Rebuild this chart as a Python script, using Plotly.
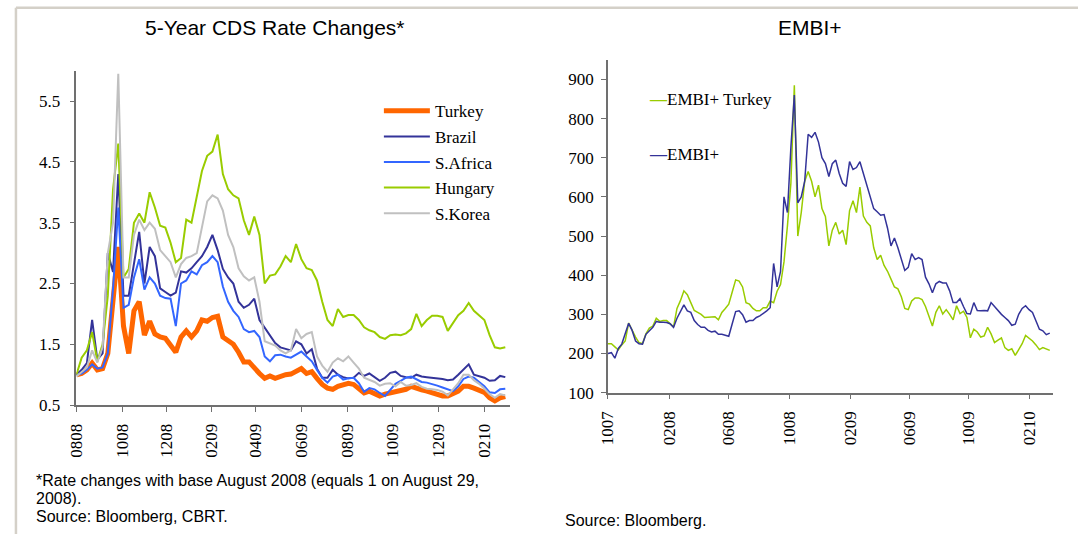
import plotly.graph_objects as go
import pandas as pd

W, H = 1078, 544

# ---------------- Left chart data: 5-year CDS rate changes (base 29 Aug 2008 = 1), weekly
cds_dates = pd.date_range("2008-08-29", periods=83, freq="7D")
turkey = [1.0, 1.02, 1.08, 1.19, 1.08, 1.1, 1.35, 2.3, 3.1, 1.8,
          1.35, 2.05, 2.2, 1.65, 1.88, 1.67, 1.62, 1.6, 1.5, 1.37,
          1.62, 1.72, 1.62, 1.72, 1.9, 1.88, 1.94, 1.96, 1.62, 1.56,
          1.5, 1.37, 1.21, 1.21, 1.1, 1.02, 0.94, 0.98, 0.94, 0.98,
          1.0, 1.01, 1.05, 1.1, 1.02, 1.05, 0.94, 0.84, 0.78, 0.76,
          0.81, 0.84, 0.86, 0.84, 0.76, 0.7, 0.73, 0.7, 0.65, 0.68,
          0.7, 0.7, 0.73, 0.76, 0.81, 0.77, 0.75, 0.73, 0.7, 0.69,
          0.65, 0.65, 0.68, 0.73, 0.81, 0.81, 0.78, 0.75, 0.71, 0.62,
          0.57, 0.62, 0.64]
brazil = [1.0, 1.08, 1.19, 1.9, 1.25, 1.35, 3.0, 2.69, 4.3, 2.3,
          2.3, 2.85, 3.35, 2.5, 3.1, 2.95, 2.42, 2.36, 2.3, 2.35,
          2.7, 2.68, 2.75, 2.85, 2.95, 3.1, 3.3, 3.05, 2.74, 2.6,
          2.5, 2.2, 2.1, 2.15, 2.25, 1.9, 1.78, 1.65, 1.52, 1.45,
          1.42, 1.4, 1.55, 1.5, 1.35, 1.42, 1.1, 0.95, 0.95, 1.08,
          1.0, 0.96, 0.94, 0.95, 1.03, 0.98, 1.02, 0.96, 0.9, 0.95,
          1.03, 1.05, 0.98, 0.96, 0.95, 1.0, 0.97, 0.96, 0.95, 0.95,
          0.93, 0.91, 0.92, 1.0, 1.08, 1.17, 1.0, 0.98, 0.95, 0.9,
          0.91, 0.98, 0.96]
s_africa = [1.0, 1.02, 1.08, 1.17, 1.1, 1.12, 1.35, 2.42, 3.75, 2.1,
            2.15, 2.6, 2.9, 2.4, 2.6, 2.5, 2.3, 2.26, 2.25, 1.8,
            2.5, 2.55, 2.7, 2.65, 2.8, 2.85, 2.95, 2.85, 2.45, 2.2,
            2.05, 1.95, 1.75, 1.7, 1.72, 1.62, 1.3, 1.22, 1.32, 1.33,
            1.3, 1.28, 1.33, 1.38, 1.3, 1.22, 1.08, 0.95, 0.87, 0.97,
            1.0, 0.92, 0.94, 0.95, 0.86, 0.72, 0.78, 0.76, 0.7, 0.65,
            0.75, 0.85, 0.9, 0.95, 0.97, 0.93, 0.88, 0.87, 0.85, 0.82,
            0.79, 0.76, 0.73, 0.81, 0.93, 0.97, 0.95, 0.88, 0.81, 0.71,
            0.7, 0.76, 0.77]
hungary = [1.0, 1.28, 1.4, 1.7, 1.22, 1.5, 2.3, 4.05, 4.8, 2.6,
           2.74, 3.5, 3.65, 3.5, 4.0, 3.75, 3.45, 3.42, 3.17, 2.85,
           2.92, 3.55, 3.5, 3.9, 4.35, 4.6, 4.67, 4.95, 4.3, 4.05,
           3.95, 3.9, 3.54, 3.3, 3.6, 3.3, 2.5, 2.63, 2.65, 2.78,
           2.95, 2.85, 3.15, 2.9, 2.75, 2.72, 2.55, 2.2, 1.9, 1.8,
           2.08, 1.95, 1.98, 1.98, 1.9, 1.78, 1.73, 1.7, 1.62, 1.59,
           1.65, 1.66, 1.65, 1.68, 1.75, 2.0, 1.8, 1.9, 1.97, 1.97,
           1.95, 1.72, 1.85, 1.98, 2.05, 2.18, 2.05, 1.97, 1.9, 1.65,
           1.45, 1.43, 1.45]
s_korea = [0.97, 1.05, 1.12, 1.4, 1.2, 1.45, 3.0, 3.5, 5.95, 2.6,
           2.6, 3.3, 3.55, 3.38, 3.5, 3.4, 3.05, 2.95, 2.85, 2.6,
           2.82, 2.92, 2.95, 3.0, 3.45, 3.85, 3.95, 3.9, 3.7, 3.3,
           3.1, 2.75, 2.62, 2.55, 2.6, 2.2, 1.55, 1.52, 1.48, 1.4,
           1.35, 1.4, 1.75, 1.6, 1.67, 1.7, 1.3, 1.15, 1.05, 1.2,
           1.27, 1.22, 1.3, 1.2, 1.1, 0.95, 0.92, 0.88, 0.82, 0.85,
           0.86, 0.81, 0.88, 0.82, 0.83, 0.86, 0.8, 0.77, 0.76, 0.75,
           0.72, 0.66, 0.76, 0.86, 1.0, 1.0, 0.91, 0.85, 0.77, 0.68,
           0.62, 0.68, 0.66]
cds_tick_dates = ["2008-08-29", "2008-10-29", "2008-12-27", "2009-02-26", "2009-04-26",
                  "2009-06-26", "2009-08-27", "2009-10-26", "2009-12-27", "2010-02-26"]
cds_tick_labels = ["0808", "1008", "1208", "0209", "0409", "0609", "0809", "1009", "1209", "0210"]

# ---------------- Right chart data: EMBI+ spreads (bp), weekly
embi_dates = pd.date_range("2007-10-05", periods=129, freq="7D")
embi_turkey = [225, 225, 217, 209, 222, 232, 278, 259, 242, 228,
               225, 250, 265, 270, 290, 282, 284, 284, 276, 268,
               315, 335, 360, 350, 330, 310, 305, 300, 292, 293,
               294, 294, 286, 305, 315, 326, 357, 388, 385, 370,
               330, 326, 315, 309, 309, 317, 317, 334, 330, 359,
               376, 434, 526, 635, 885, 500, 560, 640, 665, 640,
               600, 630, 570, 550, 475, 515, 535, 505, 515, 478,
               565, 590, 560, 625, 551, 535, 526, 470, 440, 451,
               425, 410, 390, 370, 365, 345, 315, 312, 334, 342,
               342, 338, 320, 292, 270, 305, 322, 301, 312, 300,
               286, 322, 302, 308, 292, 240, 262, 255, 242, 245,
               267, 250, 228, 234, 240, 215, 208, 212, 195, 210,
               225, 246, 240, 232, 222, 210, 215, 212, 208]
embi_plus = [200, 202, 188, 213, 224, 249, 277, 259, 232, 225,
             224, 249, 259, 267, 282, 280, 280, 279, 276, 267,
             290, 307, 324, 309, 305, 284, 274, 267, 267, 259,
             255, 257, 249, 249, 246, 244, 276, 307, 309, 299,
             280, 284, 284, 292, 296, 302, 309, 317, 430, 370,
             410, 600, 560, 727, 860, 585, 600, 640, 760, 752,
             765, 740, 700, 685, 652, 685, 694, 660, 635, 627,
             690, 670, 675, 690, 660, 636, 600, 570, 562, 553,
             555, 520, 475, 495, 470, 440, 412, 420, 455, 440,
             445, 440, 395, 378, 355, 378, 384, 380, 380, 360,
             330, 330, 340, 320, 302, 301, 330, 310, 309, 310,
             309, 330, 320, 308, 300, 292, 284, 272, 275, 300,
             315, 322, 312, 305, 285, 262, 258, 248, 252]
embi_tick_dates = ["2007-10-05", "2008-02-06", "2008-06-06", "2008-10-07",
                   "2009-02-07", "2009-06-07", "2009-10-06", "2010-02-06"]
embi_tick_labels = ["1007", "0208", "0608", "1008", "0209", "0609", "1009", "0210"]

# ---------------- styling
SERIF = "Liberation Serif, Times New Roman, serif"
SANS = "Liberation Sans, Arial, sans-serif"
AXIS_COLOR = "#707070"

def px_x(x):
    return x / W

def px_y(y):
    return 1 - y / H

fig = go.Figure()

cds_series = [
    ("Turkey", turkey, "#ff6600", 5),
    ("Brazil", brazil, "#333399", 2),
    ("S.Africa", s_africa, "#3366ff", 2),
    ("Hungary", hungary, "#99cc00", 2),
    ("S.Korea", s_korea, "#c0c0c0", 2),
]
for name, vals, color, width in cds_series:
    fig.add_trace(go.Scatter(
        x=cds_dates, y=vals, name=name, mode="lines",
        line=dict(color=color, width=width),
        xaxis="x", yaxis="y", legendgroup=name, showlegend=True,
    ))

fig.add_trace(go.Scatter(
    x=embi_dates, y=embi_turkey, name="EMBI+ Turkey", mode="lines",
    line=dict(color="#99cc00", width=1.5), xaxis="x2", yaxis="y2", showlegend=False,
))
fig.add_trace(go.Scatter(
    x=embi_dates, y=embi_plus, name="EMBI+", mode="lines",
    line=dict(color="#333399", width=1.5), xaxis="x2", yaxis="y2", showlegend=False,
))

axis_common = dict(
    showline=True, linecolor=AXIS_COLOR, linewidth=1.5, showgrid=False, zeroline=False,
    ticks="outside", ticklen=5, tickcolor=AXIS_COLOR, tickwidth=1.2,
    tickfont=dict(family=SERIF, size=17, color="black"),
)

fig.update_layout(
    width=W, height=H,
    margin=dict(l=0, r=0, t=0, b=0),
    paper_bgcolor="white", plot_bgcolor="white",
    xaxis=dict(domain=[px_x(68), px_x(505)], type="date",
               range=["2008-08-29", "2010-04-01"],
               tickmode="array", tickvals=cds_tick_dates, ticktext=cds_tick_labels,
               tickangle=-90, anchor="y", ticklabelstandoff=5, **axis_common),
    yaxis=dict(domain=[px_y(412.7), px_y(72)], range=[0.5, 6.0],
               tick0=0.5, dtick=1, tickformat=".1f", anchor="x",
               ticklabelstandoff=6, **axis_common),
    xaxis2=dict(domain=[px_x(604), px_x(1053)], type="date",
                range=["2007-10-05", "2010-03-26"],
                tickmode="array", tickvals=embi_tick_dates, ticktext=embi_tick_labels,
                tickangle=-90, anchor="y2", ticklabelstandoff=5, **axis_common),
    yaxis2=dict(domain=[px_y(400), px_y(61)], range=[100, 950],
                tick0=100, dtick=100, anchor="x2",
                ticklabelstandoff=4, **axis_common),
    showlegend=True,
    legend=dict(x=px_x(373), y=px_y(95), xanchor="left", yanchor="top",
                bgcolor="rgba(0,0,0,0)", traceorder="grouped", tracegroupgap=0.5,
                itemwidth=46,
                font=dict(family=SERIF, size=17, color="black")),
)

annotations = [
    dict(text="5-Year CDS Rate Changes*", x=px_x(268), y=px_y(28),
         font=dict(family=SANS, size=21, color="black")),
    dict(text="EMBI+", x=px_x(807.5), y=px_y(28),
         font=dict(family=SANS, size=21, color="black")),
    dict(text="*Rate changes with base August 2008 (equals 1 on August 29,", x=px_x(26), y=px_y(489.5),
         xanchor="left", font=dict(family=SANS, size=16, color="black")),
    dict(text="2008).", x=px_x(26), y=px_y(508),
         xanchor="left", font=dict(family=SANS, size=16, color="black")),
    dict(text="Source: Bloomberg, CBRT.", x=px_x(26), y=px_y(526.5),
         xanchor="left", font=dict(family=SANS, size=16, color="black")),
    dict(text="Source: Bloomberg.", x=px_x(560), y=px_y(530),
         xanchor="left", font=dict(family=SANS, size=16, color="black")),
    dict(text='<b><span style="color:#99cc00">—</span></b>EMBI+ Turkey', x=px_x(644), y=px_y(101),
         xanchor="left", font=dict(family=SERIF, size=17, color="black")),
    dict(text='<b><span style="color:#333399">—</span></b>EMBI+', x=px_x(644), y=px_y(157),
         xanchor="left", font=dict(family=SERIF, size=17, color="black")),
]
for a in annotations:
    a.setdefault("xanchor", "center")
    fig.add_annotation(xref="paper", yref="paper", yanchor="middle", showarrow=False,
                       borderpad=0, **a)

frame = "#d4d0c8"
fig.add_shape(type="line", xref="paper", yref="paper", x0=px_x(7), x1=1, y0=px_y(8), y1=px_y(8),
              line=dict(color=frame, width=2.5))
fig.add_shape(type="line", xref="paper", yref="paper", x0=px_x(7), x1=px_x(7), y0=px_y(8), y1=0,
              line=dict(color=frame, width=2.5))

fig.write_html(
    "out.html",
    config={"displayModeBar": False},
    post_script="document.body.style.margin='0px';document.body.style.overflow='hidden';",
)
